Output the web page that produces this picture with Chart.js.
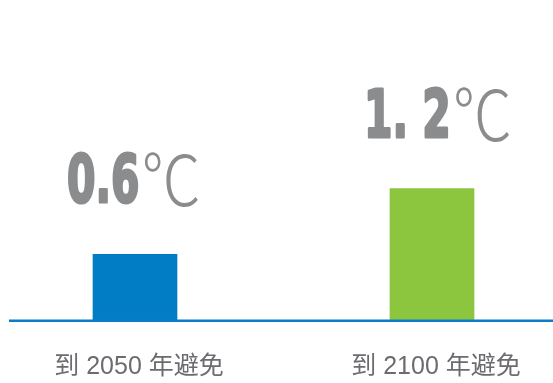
<!DOCTYPE html>
<html>
<head>
<meta charset="utf-8">
<script src="https://cdn.jsdelivr.net/npm/chart.js@4"></script>
<style>
  html, body { margin: 0; padding: 0; background: #fff; }
  #wrap { width: 553px; height: 383px; }
</style>
</head>
<body>
<div id="wrap"><canvas id="chart"></canvas></div>
<script>
// data
const categories = ['到 2050 年避免', '到 2100 年避免'];
const avoided = [0.6, 1.2];
const valueLabels = ['0.6', '1. 2'];
const unit = '℃';
const barColors = ['#007dc5', '#8cc63f'];

const numFont = 'bold 66px "DejaVu Sans"';
const unitFont = '300 70px "Noto Sans CJK SC"';

// baseline across the whole width + big value labels above bars
const decor = {
  id: 'decor',
  afterDatasetsDraw(chart) {
    const { ctx } = chart;
    const y0 = chart.scales.y.getPixelForValue(0);
    ctx.save();
    ctx.strokeStyle = '#0a7dc4';
    ctx.lineWidth = 2.5;
    ctx.beginPath();
    ctx.moveTo(9, y0 + 0.8);
    ctx.lineTo(chart.width, y0 + 0.8);
    ctx.stroke();

    const meta = chart.getDatasetMeta(0);
    meta.data.forEach((bar, i) => {
      const num = valueLabels[i];
      const sx = 0.62;
      const ux = 0.85;
      ctx.fillStyle = '#8b8c8e';
      ctx.strokeStyle = '#8b8c8e';
      ctx.textBaseline = 'alphabetic';
      ctx.textAlign = 'left';
      ctx.font = numFont;
      const numW = ctx.measureText(num).width * sx;
      const left = bar.x - 68;
      const base = bar.y - 52;
      ctx.save();
      ctx.translate(left, base);
      ctx.scale(sx, 1);
      ctx.lineWidth = 3;
      ctx.lineJoin = 'round';
      ctx.fillText(num, 0, 0);
      ctx.strokeText(num, 0, 0);
      ctx.restore();
      ctx.save();
      ctx.font = unitFont;
      ctx.translate(left + numW + 2, base + 4);
      ctx.scale(ux, 1);
      ctx.fillText(unit, 0, 0);
      ctx.restore();
    });
    ctx.restore();
  }
};

new Chart(document.getElementById('chart'), {
  type: 'bar',
  data: {
    labels: categories,
    datasets: [{
      data: avoided,
      backgroundColor: barColors,
      borderWidth: 0,
      barThickness: 84,
      clip: false,
    }],
  },
  options: {
    responsive: true,
    maintainAspectRatio: false,
    animation: false,
    events: [],
    layout: {
      padding: { left: 135, right: 121, top: 101, bottom: 0 },
    },
    plugins: {
      legend: { display: false },
      tooltip: { enabled: false },
    },
    scales: {
      x: {
        offset: false,
        grid: { display: false, drawTicks: false },
        border: { display: false },
        afterFit(scale) { scale.height = 63; },
        ticks: {
          maxRotation: 0,
          autoSkip: false,
          padding: 32,
          labelOffset: 4,
          color: '#6b6c6f',
          font: { family: '"Liberation Sans", "Noto Sans CJK SC"', size: 25 },
        },
      },
      y: {
        display: false,
        min: 0,
        max: 2,
      },
    },
  },
  plugins: [decor],
});
</script>
</body>
</html>
